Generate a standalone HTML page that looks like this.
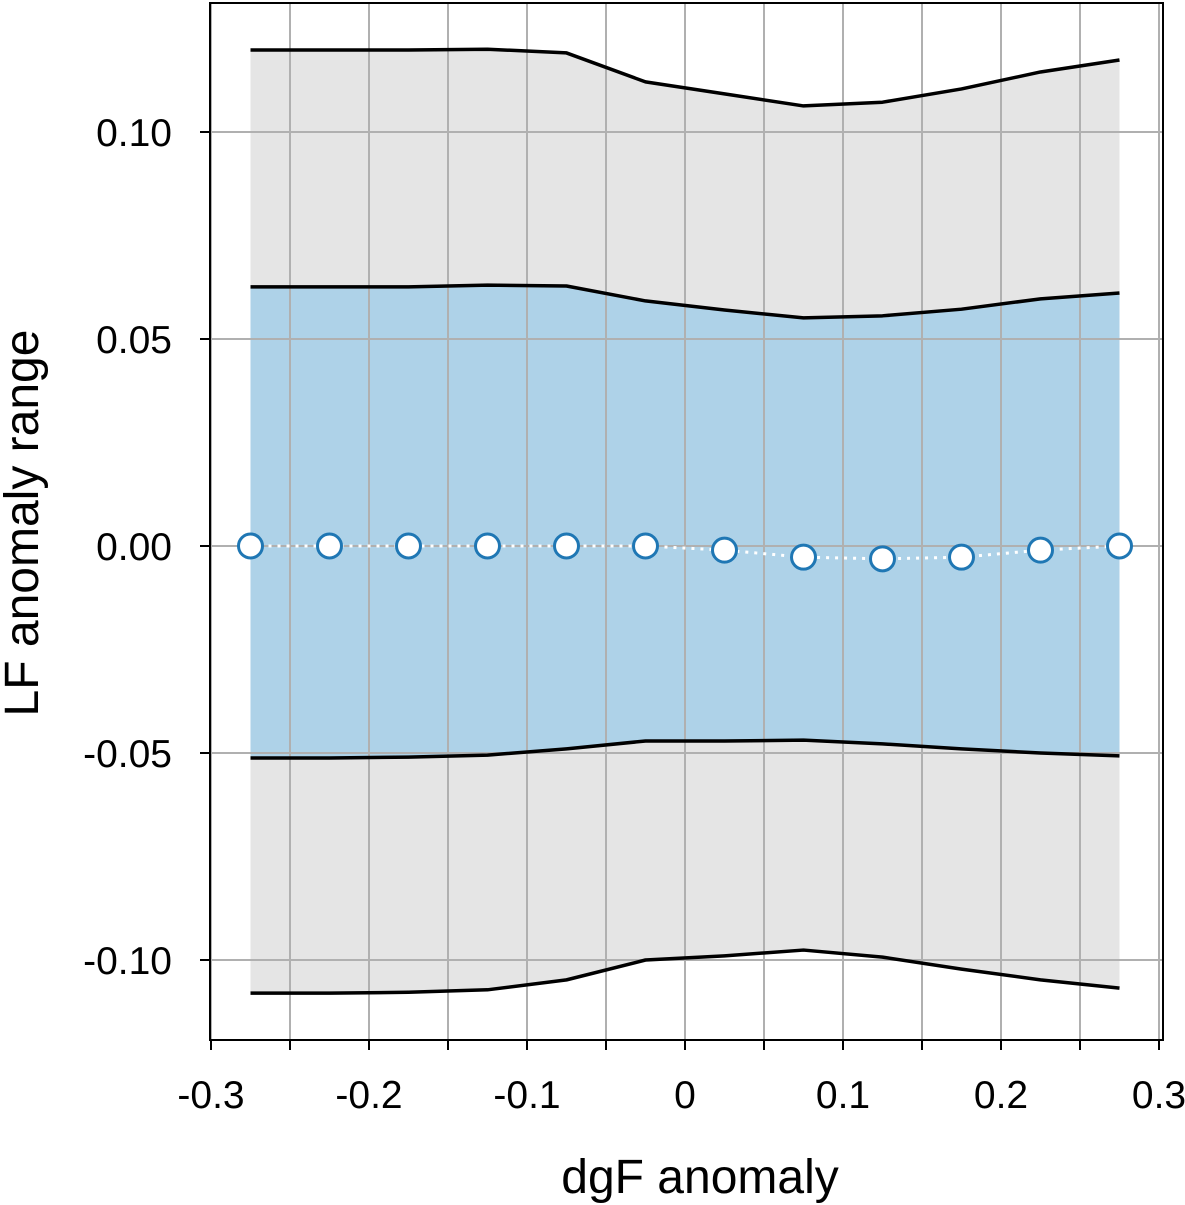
<!DOCTYPE html>
<html><head><meta charset="utf-8"><style>
html,body{margin:0;padding:0;background:#fff;}
svg{display:block;font-family:"Liberation Sans","DejaVu Sans",sans-serif;}
</style></head><body>
<svg id="chart" width="1185" height="1205" viewBox="0 0 1185 1205" xmlns="http://www.w3.org/2000/svg"></svg>
<script>
const xValues = [-0.275,-0.225,-0.175,-0.125,-0.075,-0.025,0.025,0.075,0.125,0.175,0.225,0.275];
const upperOuter = [0.1198,0.1198,0.1198,0.1200,0.1191,0.1121,0.1092,0.1063,0.1072,0.1104,0.1145,0.1174];
const upperInner = [0.0626,0.0626,0.0626,0.0630,0.0628,0.0592,0.0570,0.0551,0.0556,0.0572,0.0597,0.0611];
const lowerInner = [-0.0512,-0.0512,-0.0510,-0.0505,-0.0490,-0.0471,-0.0471,-0.0469,-0.0478,-0.0490,-0.0500,-0.0507];
const lowerOuter = [-0.1080,-0.1080,-0.1078,-0.1072,-0.1048,-0.1000,-0.0990,-0.0976,-0.0993,-0.1022,-0.1048,-0.1068];
const median = [0,0,0,0,0,0,-0.001,-0.0027,-0.0031,-0.0027,-0.001,0];
const xTicks = [-0.3,-0.2,-0.1,0,0.1,0.2,0.3];
const xTickLabels = ["-0.3","-0.2","-0.1","0","0.1","0.2","0.3"];
const yTicks = [0.10,0.05,0,-0.05,-0.10];
const yTickLabels = ["0.10","0.05","0.00","-0.05","-0.10"];

const L=210,R=1163,T=3,B=1040;
function xs(v){return 685+v*1580;}
function ys(v){return 546-v*4140;}
const NS="http://www.w3.org/2000/svg";
const svg=document.getElementById('chart');
function mk(tag,attrs,parent){const e=document.createElementNS(NS,tag);for(const k in attrs)e.setAttribute(k,attrs[k]);(parent||svg).appendChild(e);return e;}
function pts(arr){return arr.map((v,i)=>xs(xValues[i])+','+ys(v));}
function band(up,lo){return pts(up).concat(pts(lo).reverse()).join(' ');}

let e;
e=mk('polygon',{points:band(upperOuter,lowerOuter),fill:'#e5e5e5'});


e=mk('polygon',{points:band(upperInner,lowerInner),fill:'#aed2e8'});



for(let v=-0.3;v<=0.3001;v+=0.05){
  e=mk('line',{x1:xs(v),x2:xs(v),y1:T,y2:B,stroke:'#b0b0b0','stroke-width':2});
  
  
  e=mk('line',{x1:xs(v),x2:xs(v),y1:B,y2:B+10,stroke:'#000','stroke-width':2});
  
  
}
for(let v=-0.10;v<=0.1001;v+=0.05){
  e=mk('line',{x1:L,x2:R,y1:ys(v),y2:ys(v),stroke:'#b0b0b0','stroke-width':2});
  
  
  e=mk('line',{x1:L-10,x2:L,y1:ys(v),y2:ys(v),stroke:'#000','stroke-width':2});
  
  
}

[[upperOuter,'upper-outer-line'],[upperInner,'upper-inner-line'],[lowerInner,'lower-inner-line'],[lowerOuter,'lower-outer-line']].forEach(([a,n])=>{
  const p=mk('polyline',{points:pts(a).join(' '),fill:'none',stroke:'#000','stroke-width':3.5,'stroke-linejoin':'round'});
  
  
});

e=mk('polyline',{points:pts(median).join(' '),fill:'none',stroke:'#fff','stroke-width':3,'stroke-dasharray':'3 6'});


median.forEach((v,i)=>{
  const c=mk('circle',{cx:xs(xValues[i]),cy:ys(v),r:12,fill:'#fff',stroke:'#1f77b4','stroke-width':3});
  
  
});

e=mk('rect',{x:L,y:T,width:R-L,height:B-T,fill:'none',stroke:'#000','stroke-width':2});



xTicks.forEach((v,i)=>{
  const t=mk('text',{x:xs(v),y:1108,'font-size':39,'text-anchor':'middle',fill:'#000'});
  t.textContent=xTickLabels[i];
  
  
});
yTicks.forEach((v,i)=>{
  const t=mk('text',{x:172,y:ys(v)+14,'font-size':39,'text-anchor':'end',fill:'#000'});
  t.textContent=yTickLabels[i];
  
  
});
e=mk('text',{x:700,y:1193,'font-size':48,'text-anchor':'middle',fill:'#000'});
e.textContent='dgF anomaly';


e=mk('text',{x:0,y:0,'font-size':48,'text-anchor':'middle',fill:'#000',transform:'translate(38,523) rotate(-90)'});
e.textContent='LF anomaly range';


</script>
</body></html>
